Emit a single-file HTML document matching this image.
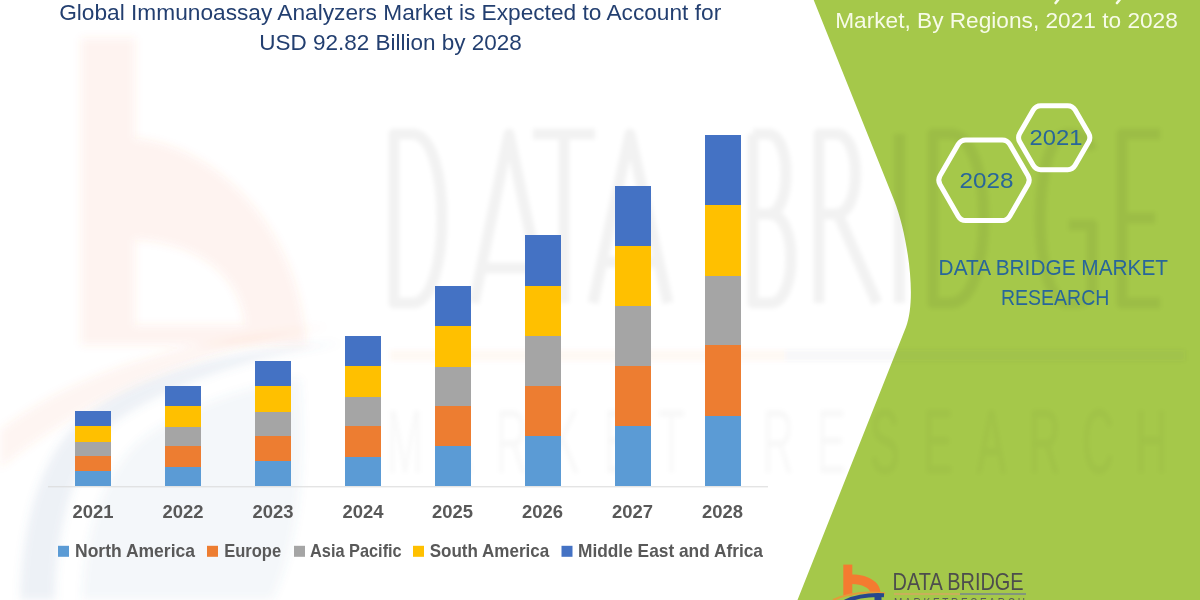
<!DOCTYPE html>
<html><head><meta charset="utf-8"><style>
html,body{margin:0;padding:0;width:1200px;height:600px;overflow:hidden;background:#fff}
svg{display:block}
text{font-family:"Liberation Sans", sans-serif}
</style></head><body>
<svg width="1200" height="600" viewBox="0 0 1200 600">
<defs><filter id="bl4" x="-20%" y="-20%" width="140%" height="140%"><feGaussianBlur stdDeviation="4"/></filter><filter id="bl2" x="-5%" y="-5%" width="110%" height="110%"><feGaussianBlur stdDeviation="2"/></filter></defs>
<g><g filter="url(#bl4)" fill="#EF7438" fill-opacity="0.08"><path fill-rule="evenodd" d="M81 38 H135 V138 C213 145 300 225 306 345 L81 345 Z M135 240 C190 242 240 270 245 325 L135 325 Z"/><path fill-opacity="0.07" d="M0 430 C80 370 180 340 330 326 C200 350 90 395 0 468 Z"/></g><g filter="url(#bl4)" fill="#5B7DB1"><path fill-opacity="0.11" d="M20 600 C22 520 40 455 85 415 C145 370 240 348 342 343 C250 356 165 387 115 422 C78 452 56 520 55 600 Z"/><path fill-opacity="0.06" d="M82 600 C84 530 105 470 140 440 C185 405 250 385 300 378 C306 450 302 540 272 600 Z"/></g></g>
<path d="M813.7 0 L894.3 200.7 C906.6 231.5 917.6 297.5 905.9 327.2 L797.5 600 L1200 600 L1200 0 Z" fill="#A5C84A"/>
<g filter="url(#bl2)"><path d="M394 134 V303 H412 C452 303 452 134 412 134 Z M474 303 L509 134 L545 303 M484 268 H535 M533 134 H595 M564 134 V303 M593 303 L630 134 L668 303 M605 262 H656 M753 134 V303 H770 C798 303 798 214 770 214 H753 M753 214 H768 C792 214 792 134 768 134 H753 M819 303 V134 H836 C862 134 862 214 836 214 H819 M838 214 L877 303 M899.5 134 V303 M933 134 V303 H950 C995 303 995 134 950 134 Z M1092 150 C1086 134 1076 134 1068 134 C1031 134 1031 303 1068 303 C1081 303 1090 303 1092 290 V225 H1069 M1160 134 H1122 V303 H1160 M1122 218 H1155" fill="none" stroke="#000" stroke-opacity="0.05" stroke-width="11" stroke-linejoin="round"/><rect x="390" y="350" width="395" height="11" fill="#ED7D31" fill-opacity="0.045"/><rect x="785" y="350" width="400" height="11" fill="#44546A" fill-opacity="0.045"/><text transform="translate(405.0,473) scale(0.48,1)" text-anchor="middle" font-size="91" fill="#000" fill-opacity="0.028">M</text><text transform="translate(458.3,473) scale(0.48,1)" text-anchor="middle" font-size="91" fill="#000" fill-opacity="0.028">A</text><text transform="translate(511.6,473) scale(0.48,1)" text-anchor="middle" font-size="91" fill="#000" fill-opacity="0.028">R</text><text transform="translate(564.9,473) scale(0.48,1)" text-anchor="middle" font-size="91" fill="#000" fill-opacity="0.028">K</text><text transform="translate(618.2,473) scale(0.48,1)" text-anchor="middle" font-size="91" fill="#000" fill-opacity="0.028">E</text><text transform="translate(671.5,473) scale(0.48,1)" text-anchor="middle" font-size="91" fill="#000" fill-opacity="0.028">T</text><text transform="translate(778.1,473) scale(0.48,1)" text-anchor="middle" font-size="91" fill="#000" fill-opacity="0.028">R</text><text transform="translate(831.4,473) scale(0.48,1)" text-anchor="middle" font-size="91" fill="#000" fill-opacity="0.028">E</text><text transform="translate(884.7,473) scale(0.48,1)" text-anchor="middle" font-size="91" fill="#000" fill-opacity="0.028">S</text><text transform="translate(938.0,473) scale(0.48,1)" text-anchor="middle" font-size="91" fill="#000" fill-opacity="0.028">E</text><text transform="translate(991.3,473) scale(0.48,1)" text-anchor="middle" font-size="91" fill="#000" fill-opacity="0.028">A</text><text transform="translate(1044.6,473) scale(0.48,1)" text-anchor="middle" font-size="91" fill="#000" fill-opacity="0.028">R</text><text transform="translate(1097.9,473) scale(0.48,1)" text-anchor="middle" font-size="91" fill="#000" fill-opacity="0.028">C</text><text transform="translate(1151.2,473) scale(0.48,1)" text-anchor="middle" font-size="91" fill="#000" fill-opacity="0.028">H</text></g>
<g shape-rendering="crispEdges"><rect x="75" y="411.3" width="36" height="15" fill="#4472C4"/><rect x="75" y="426.3" width="36" height="15.4" fill="#FFC000"/><rect x="75" y="441.7" width="36" height="14.6" fill="#A5A5A5"/><rect x="75" y="456.3" width="36" height="15" fill="#ED7D31"/><rect x="75" y="471.3" width="36" height="15" fill="#5B9BD5"/><rect x="165" y="386.2" width="36" height="19.6" fill="#4472C4"/><rect x="165" y="405.8" width="36" height="20.9" fill="#FFC000"/><rect x="165" y="426.7" width="36" height="19.1" fill="#A5A5A5"/><rect x="165" y="445.8" width="36" height="20.9" fill="#ED7D31"/><rect x="165" y="466.7" width="36" height="19.6" fill="#5B9BD5"/><rect x="255" y="360.8" width="36" height="25" fill="#4472C4"/><rect x="255" y="385.8" width="36" height="25.9" fill="#FFC000"/><rect x="255" y="411.7" width="36" height="24.1" fill="#A5A5A5"/><rect x="255" y="435.8" width="36" height="25.5" fill="#ED7D31"/><rect x="255" y="461.3" width="36" height="25" fill="#5B9BD5"/><rect x="345" y="335.8" width="36" height="30.5" fill="#4472C4"/><rect x="345" y="366.3" width="36" height="30.4" fill="#FFC000"/><rect x="345" y="396.7" width="36" height="29.1" fill="#A5A5A5"/><rect x="345" y="425.8" width="36" height="30.9" fill="#ED7D31"/><rect x="345" y="456.7" width="36" height="29.6" fill="#5B9BD5"/><rect x="434.5" y="286.2" width="36" height="40" fill="#4472C4"/><rect x="434.5" y="326.2" width="36" height="40.8" fill="#FFC000"/><rect x="434.5" y="367" width="36" height="38.8" fill="#A5A5A5"/><rect x="434.5" y="405.8" width="36" height="40.5" fill="#ED7D31"/><rect x="434.5" y="446.3" width="36" height="40" fill="#5B9BD5"/><rect x="524.5" y="235" width="36" height="50.8" fill="#4472C4"/><rect x="524.5" y="285.8" width="36" height="50" fill="#FFC000"/><rect x="524.5" y="335.8" width="36" height="50" fill="#A5A5A5"/><rect x="524.5" y="385.8" width="36" height="50" fill="#ED7D31"/><rect x="524.5" y="435.8" width="36" height="50.5" fill="#5B9BD5"/><rect x="614.5" y="185.8" width="36" height="59.7" fill="#4472C4"/><rect x="614.5" y="245.5" width="36" height="60.3" fill="#FFC000"/><rect x="614.5" y="305.8" width="36" height="60.5" fill="#A5A5A5"/><rect x="614.5" y="366.3" width="36" height="60" fill="#ED7D31"/><rect x="614.5" y="426.3" width="36" height="60" fill="#5B9BD5"/><rect x="704.5" y="135" width="36" height="70" fill="#4472C4"/><rect x="704.5" y="205" width="36" height="70.5" fill="#FFC000"/><rect x="704.5" y="275.5" width="36" height="69.5" fill="#A5A5A5"/><rect x="704.5" y="345" width="36" height="71" fill="#ED7D31"/><rect x="704.5" y="416" width="36" height="70.3" fill="#5B9BD5"/></g>
<rect x="48" y="486.3" width="720" height="1" fill="#d9d9d9"/>
<g><text x="93" y="518.4" text-anchor="middle" font-size="17.9" font-weight="bold" fill="#595959" textLength="41" lengthAdjust="spacingAndGlyphs">2021</text><text x="183" y="518.4" text-anchor="middle" font-size="17.9" font-weight="bold" fill="#595959" textLength="41" lengthAdjust="spacingAndGlyphs">2022</text><text x="273" y="518.4" text-anchor="middle" font-size="17.9" font-weight="bold" fill="#595959" textLength="41" lengthAdjust="spacingAndGlyphs">2023</text><text x="363" y="518.4" text-anchor="middle" font-size="17.9" font-weight="bold" fill="#595959" textLength="41" lengthAdjust="spacingAndGlyphs">2024</text><text x="452.5" y="518.4" text-anchor="middle" font-size="17.9" font-weight="bold" fill="#595959" textLength="41" lengthAdjust="spacingAndGlyphs">2025</text><text x="542.5" y="518.4" text-anchor="middle" font-size="17.9" font-weight="bold" fill="#595959" textLength="41" lengthAdjust="spacingAndGlyphs">2026</text><text x="632.5" y="518.4" text-anchor="middle" font-size="17.9" font-weight="bold" fill="#595959" textLength="41" lengthAdjust="spacingAndGlyphs">2027</text><text x="722.5" y="518.4" text-anchor="middle" font-size="17.9" font-weight="bold" fill="#595959" textLength="41" lengthAdjust="spacingAndGlyphs">2028</text></g>
<g><rect x="58" y="545.8" width="11" height="11" fill="#5B9BD5"/><text x="75" y="556.8" font-size="17.9" font-weight="bold" fill="#595959" textLength="120" lengthAdjust="spacingAndGlyphs">North America</text><rect x="207" y="545.8" width="11" height="11" fill="#ED7D31"/><text x="224.2" y="556.8" font-size="17.9" font-weight="bold" fill="#595959" textLength="57" lengthAdjust="spacingAndGlyphs">Europe</text><rect x="294" y="545.8" width="11" height="11" fill="#A5A5A5"/><text x="310" y="556.8" font-size="17.9" font-weight="bold" fill="#595959" textLength="91.7" lengthAdjust="spacingAndGlyphs">Asia Pacific</text><rect x="413" y="545.8" width="11" height="11" fill="#FFC000"/><text x="429.7" y="556.8" font-size="17.9" font-weight="bold" fill="#595959" textLength="119.5" lengthAdjust="spacingAndGlyphs">South America</text><rect x="561.5" y="545.8" width="11" height="11" fill="#4472C4"/><text x="578" y="556.8" font-size="17.9" font-weight="bold" fill="#595959" textLength="185" lengthAdjust="spacingAndGlyphs">Middle East and Africa</text></g>
<text x="59.2" y="19.8" font-size="22.7" fill="#233F70" textLength="662" lengthAdjust="spacingAndGlyphs">Global Immunoassay Analyzers Market is Expected to Account for</text>
<text x="259.3" y="49.6" font-size="22.7" fill="#233F70" textLength="262.5" lengthAdjust="spacingAndGlyphs">USD 92.82 Billion by 2028</text>
<text x="835.2" y="27.6" font-size="22.2" fill="#f7fbe8" textLength="342.6" lengthAdjust="spacingAndGlyphs">Market, By Regions, 2021 to 2028</text>
<path d="M1058 0 L1055.6 3 M1119.5 0 L1117 3" stroke="#f7fbe8" stroke-width="2.6" stroke-linecap="round"/>
<path d="M1028.00 175.87 Q1030.50 180.20 1028.00 184.53 L1009.75 216.14 Q1007.25 220.47 1002.25 220.47 L965.75 220.47 Q960.75 220.47 958.25 216.14 L940.00 184.53 Q937.50 180.20 940.00 175.87 L958.25 144.26 Q960.75 139.93 965.75 139.93 L1002.25 139.93 Q1007.25 139.93 1009.75 144.26 Z" fill="none" stroke="#ffffff" stroke-width="5" stroke-linejoin="round"/>
<path d="M1088.60 133.37 Q1091.10 137.70 1088.60 142.03 L1075.15 165.33 Q1072.65 169.66 1067.65 169.66 L1040.75 169.66 Q1035.75 169.66 1033.25 165.33 L1019.80 142.03 Q1017.30 137.70 1019.80 133.37 L1033.25 110.07 Q1035.75 105.74 1040.75 105.74 L1067.65 105.74 Q1072.65 105.74 1075.15 110.07 Z" fill="none" stroke="#ffffff" stroke-width="5" stroke-linejoin="round"/>
<text x="959.6" y="187.8" font-size="21.8" fill="#28669A" textLength="54" lengthAdjust="spacingAndGlyphs">2028</text>
<text x="1029.4" y="144.6" font-size="21.9" fill="#28669A" textLength="53" lengthAdjust="spacingAndGlyphs">2021</text>
<text x="938.6" y="275" font-size="22.3" fill="#28669A" textLength="229.5" lengthAdjust="spacingAndGlyphs">DATA BRIDGE MARKET</text>
<text x="1000.9" y="305.2" font-size="22.3" fill="#28669A" textLength="108.5" lengthAdjust="spacingAndGlyphs">RESEARCH</text>
<g><rect x="843.3" y="564.6" width="9" height="31" fill="#F47B30"/><path d="M852 574.5 C868 574.5 880.5 582 880.5 593 L870.5 593 C870 588 862 584 852 584 Z" fill="#F47B30"/><path d="M833 600 Q855 590 885 593.3" fill="none" stroke="#E39B3A" stroke-width="2"/><path d="M845 601.5 Q862 594 884 595.3" fill="none" stroke="#27478C" stroke-width="4"/><rect x="874.5" y="595" width="7" height="5" fill="#27478C"/><text x="892.6" y="590" font-size="23.2" fill="#4d4d4d" textLength="131" lengthAdjust="spacingAndGlyphs">DATA BRIDGE</text><rect x="894" y="593" width="66" height="2" fill="#c9b05a"/><rect x="960" y="593" width="66" height="2" fill="#82967C"/><text x="894" y="607" font-size="12" fill="#5a5a5a" textLength="131" lengthAdjust="spacingAndGlyphs">M A R K E T  R E S E A R C H</text></g>
</svg>
</body></html>
